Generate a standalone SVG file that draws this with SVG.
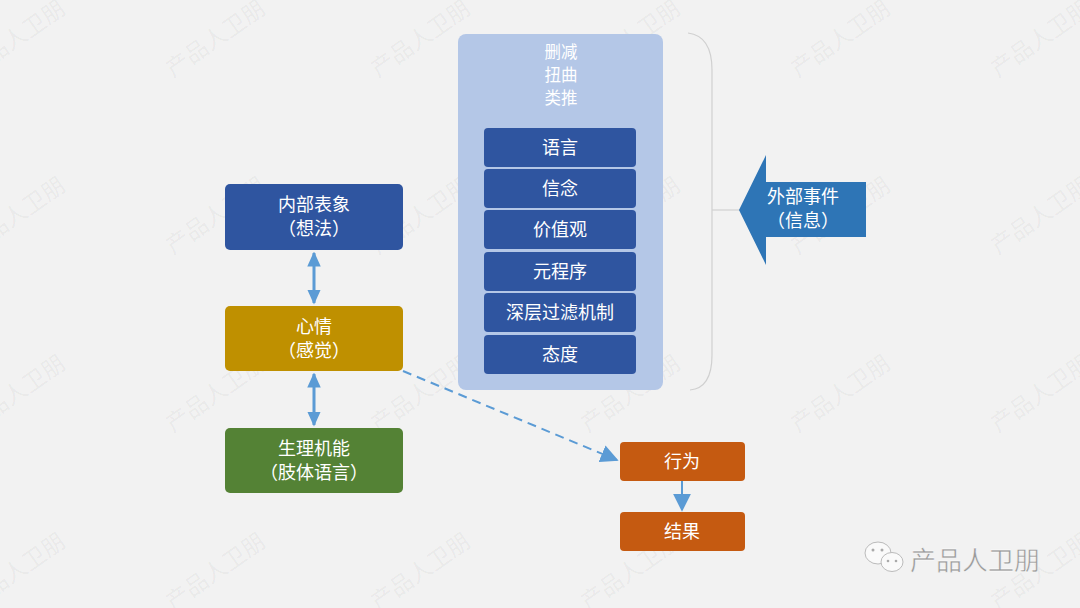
<svg xmlns="http://www.w3.org/2000/svg" width="1080" height="608" viewBox="0 0 1080 608">
<defs>
<style>
text{font-family:"Noto Sans CJK SC","Noto Sans",sans-serif;}
.t{fill:#ffffff;font-size:18px;text-anchor:middle;}
.h{fill:#ffffff;font-size:16.5px;text-anchor:middle;}
.wm{fill:#000;fill-opacity:0.05;font-size:23px;}
.inner{fill:#2f55a0;}
.conn{stroke:#5b9bd5;stroke-width:3;fill:none;}
</style>
<marker id="ah" viewBox="0 0 10 10" refX="9" refY="5" markerWidth="5" markerHeight="4.5" orient="auto-start-reverse" markerUnits="strokeWidth" preserveAspectRatio="none">
<path d="M0,0 L10,5 L0,10 z" fill="#5b9bd5"/>
</marker>
<marker id="ah2" viewBox="0 0 10 10" refX="9" refY="5" markerWidth="9" markerHeight="9" orient="auto" markerUnits="strokeWidth">
<path d="M0,0 L10,5 L0,10 z" fill="#5b9bd5"/>
</marker>
<g id="wmtext"><text class="wm" transform="rotate(-35)" text-anchor="middle">产品人卫朋</text></g>
</defs>
<rect width="1080" height="608" fill="#f2f2f2"/>
<g id="watermarks">
<use href="#wmtext" x="20" y="45"/><use href="#wmtext" x="220" y="45"/><use href="#wmtext" x="425" y="45"/><use href="#wmtext" x="635" y="45"/><use href="#wmtext" x="845" y="45"/><use href="#wmtext" x="1045" y="45"/>
<use href="#wmtext" x="20" y="222"/><use href="#wmtext" x="220" y="222"/><use href="#wmtext" x="425" y="222"/><use href="#wmtext" x="635" y="222"/><use href="#wmtext" x="845" y="222"/><use href="#wmtext" x="1045" y="222"/>
<use href="#wmtext" x="20" y="400"/><use href="#wmtext" x="220" y="400"/><use href="#wmtext" x="425" y="400"/><use href="#wmtext" x="635" y="400"/><use href="#wmtext" x="845" y="400"/><use href="#wmtext" x="1045" y="400"/>
<use href="#wmtext" x="20" y="578"/><use href="#wmtext" x="220" y="578"/><use href="#wmtext" x="425" y="578"/><use href="#wmtext" x="635" y="578"/><use href="#wmtext" x="1045" y="578"/>
</g>
<g id="filter-container">
<rect x="458" y="34" width="205" height="356" rx="8" fill="#b4c7e7"/>
<text class="h" x="561" y="58">删减</text>
<text class="h" x="561" y="81">扭曲</text>
<text class="h" x="561" y="104">类推</text>
</g>
<g id="n-yuyan"><rect class="inner" x="484" y="128" width="152" height="39" rx="4"/><text class="t" x="560" y="154">语言</text></g>
<g id="n-xinnian"><rect class="inner" x="484" y="169" width="152" height="39" rx="4"/><text class="t" x="560" y="195">信念</text></g>
<g id="n-jiazhiguan"><rect class="inner" x="484" y="210" width="152" height="39" rx="4"/><text class="t" x="560" y="236">价值观</text></g>
<g id="n-yuanchengxu"><rect class="inner" x="484" y="252" width="152" height="39" rx="4"/><text class="t" x="560" y="278">元程序</text></g>
<g id="n-shenceng"><rect class="inner" x="484" y="293" width="152" height="39" rx="4"/><text class="t" x="560" y="319">深层过滤机制</text></g>
<g id="n-taidu"><rect class="inner" x="484" y="335" width="152" height="39" rx="4"/><text class="t" x="560" y="361">态度</text></g>
<g id="brace">
<path d="M688,33 Q712,36 712,70 L712,355 Q712,388 690,390" fill="none" stroke="#d0d0d0" stroke-width="1.2"/>
<line x1="712" y1="210" x2="740" y2="210" stroke="#d0d0d0" stroke-width="1.2"/>
</g>
<g id="n-external">
<path d="M739,210 L766,155 L766,182 L866,182 L866,237 L766,237 L766,265 Z" fill="#2e75b6"/>
<text class="t" x="803" y="203">外部事件</text>
<text class="t" x="803" y="227">（信息）</text>
</g>
<g id="n-neibu">
<rect x="225" y="184" width="178" height="66" rx="5" fill="#2f55a0"/>
<text class="t" x="314" y="211">内部表象</text>
<text class="t" x="314" y="235">（想法）</text>
</g>
<g id="n-xinqing">
<rect x="225" y="306" width="178" height="65" rx="5" fill="#bf9000"/>
<text class="t" x="314" y="333">心情</text>
<text class="t" x="314" y="357">（感觉）</text>
</g>
<g id="n-shengli">
<rect x="225" y="428" width="178" height="65" rx="5" fill="#548235"/>
<text class="t" x="314" y="455">生理机能</text>
<text class="t" x="314" y="479">（肢体语言）</text>
</g>
<g id="n-xingwei">
<rect x="620" y="442" width="125" height="39" rx="4" fill="#c55a11"/>
<text class="t" x="682" y="468">行为</text>
</g>
<g id="n-jieguo">
<rect x="620" y="512" width="125" height="39" rx="4" fill="#c55a11"/>
<text class="t" x="682" y="538">结果</text>
</g>
<g id="connectors">
<line class="conn" x1="314" y1="253" x2="314" y2="303" marker-start="url(#ah)" marker-end="url(#ah)"/>
<line class="conn" x1="314" y1="374" x2="314" y2="425" marker-start="url(#ah)" marker-end="url(#ah)"/>
<line x1="403" y1="371" x2="617" y2="460" stroke="#5b9bd5" stroke-width="2" stroke-dasharray="9,6" marker-end="url(#ah2)"/>
<line x1="682" y1="481" x2="682" y2="510" stroke="#5b9bd5" stroke-width="2" marker-end="url(#ah2)"/>
</g>
<g id="logo">
<ellipse cx="878" cy="553" rx="13" ry="11" fill="#fafafa" stroke="#bbbbbb" stroke-width="1"/>
<ellipse cx="892" cy="562" rx="11" ry="9.5" fill="#fafafa" stroke="#bbbbbb" stroke-width="1"/>
<circle cx="873" cy="550" r="1.5" fill="#aaa"/><circle cx="882" cy="550" r="1.5" fill="#aaa"/>
<circle cx="888" cy="561" r="1.3" fill="#aaa"/><circle cx="896" cy="561" r="1.3" fill="#aaa"/>
<text x="910" y="570" font-size="26" fill="#9a9a9a" stroke="#ffffff" stroke-width="0.4">产品人卫朋</text>
</g>
</svg>
